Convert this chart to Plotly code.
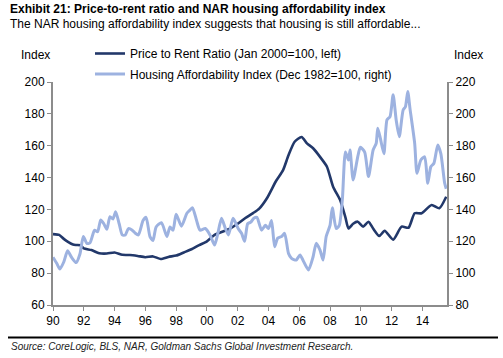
import plotly.graph_objects as go

# Price to Rent Ratio (Jan 2000=100, left axis)
ptr_year = [1990.0, 1990.4, 1990.7, 1991.0, 1991.3, 1991.5, 1991.8, 1992.0, 1992.5, 1993.0,
            1993.5, 1994.0, 1994.5, 1995.0, 1995.5, 1996.0, 1996.5, 1997.0, 1997.5, 1998.0,
            1998.5, 1999.0, 1999.5, 2000.0, 2000.5, 2001.0, 2001.5, 2002.0, 2002.5, 2003.0,
            2003.4, 2003.9, 2004.5, 2004.95, 2005.3, 2005.7, 2006.15, 2006.5, 2006.9, 2007.35,
            2007.8, 2008.2, 2008.65, 2009.0, 2009.2, 2009.5, 2009.8, 2010.15, 2010.5, 2010.8,
            2011.2, 2011.55, 2012.1, 2012.65, 2013.1, 2013.5, 2013.95, 2014.6, 2015.1, 2015.55]
ptr_value = [104.5, 104, 101.5, 99.5, 98, 97.7, 97.5, 95.5, 94.5, 92.5,
             92.3, 93, 91.5, 91.4, 90.8, 90, 90.5, 88.9, 90.2, 91,
             93, 95, 97.6, 100, 104, 106, 108, 111, 114.6, 117.7,
             120.5, 127, 138, 144.7, 154, 162.5, 165.5, 161.5, 158.4, 153,
             146.8, 134.2, 126, 115, 108, 111, 112.3, 109.2, 112.3, 108,
             103.3, 106.6, 101, 109.2, 108.5, 117.6, 117.6, 122.8, 120.7, 128]

# Housing Affordability Index (Dec 1982=100, right axis)
hai_year = [1990.0, 1990.25, 1990.45, 1990.7, 1990.95, 1991.2, 1991.5, 1991.75, 1991.97, 1992.2,
            1992.4, 1992.7, 1992.9, 1993.1, 1993.3, 1993.5, 1993.7, 1993.9, 1994.07, 1994.3,
            1994.5, 1994.7, 1994.9, 1995.15, 1995.35, 1995.55, 1995.85, 1996.05, 1996.3, 1996.5,
            1996.7, 1997.05, 1997.4, 1997.6, 1997.8, 1998.0, 1998.35, 1998.7, 1998.9, 1999.07,
            1999.33, 1999.55, 1999.9, 2000.2, 2000.5, 2000.7, 2000.95, 2001.2, 2001.4, 2001.7,
            2002.03, 2002.25, 2002.45, 2002.65, 2002.85, 2003.05, 2003.25, 2003.55, 2003.8, 2004.0,
            2004.2, 2004.4, 2004.6, 2004.85, 2005.05, 2005.3, 2005.5, 2005.8, 2006.05, 2006.25,
            2006.6, 2006.9, 2007.1, 2007.35, 2007.55, 2007.75, 2008.0, 2008.15, 2008.4, 2008.6,
            2008.8, 2009.0, 2009.2, 2009.3, 2009.5, 2009.8, 2009.97, 2010.25, 2010.5, 2010.8,
            2011.0, 2011.1, 2011.27, 2011.5, 2011.7, 2011.9, 2012.1, 2012.3, 2012.5, 2012.75,
            2012.9, 2013.05, 2013.2, 2013.5, 2013.65, 2013.9, 2014.15, 2014.35, 2014.55, 2014.75,
            2015.0, 2015.2, 2015.45, 2015.55]
hai_value = [110, 106, 102.6, 107, 114, 110, 106.6, 112, 123, 118.7,
             119, 127, 126, 133.4, 131, 127.5, 135.4, 134, 138.6, 131,
             124, 124, 128, 127, 125, 124, 133, 135, 123, 120.5,
             129, 131.7, 123, 129, 127, 137, 129.5, 137.6, 139.6, 141,
             133, 127, 128, 124, 117.7, 124.5, 134.4, 128, 124, 134.4,
             128, 125, 120, 131, 132, 134.5, 135, 127, 130, 128,
             133, 116.6, 122, 123, 125, 112.4, 109.3, 108.2, 111.4, 108,
             102, 110.3, 118.7, 114.5, 108.2, 123, 130, 141, 128, 130,
             146, 176, 171, 177.3, 158.5, 173, 179, 176, 160.6, 177.3,
             181.5, 191, 184.6, 175, 196.2, 198.3, 212, 196, 185.7, 202.4,
             204.5, 214, 203, 181.5, 162.7, 171, 173, 156.4, 166.8, 169,
             180.4, 175, 156.4, 153]

x_tickvals = [1990, 1992, 1994, 1996, 1998, 2000, 2002, 2004, 2006, 2008, 2010, 2012, 2014]
x_ticktext = ["90", "92", "94", "96", "98", "00", "02", "04", "06", "08", "10", "12", "14"]

DARK = "#22386a"
LIGHT = "#9db2e0"
AXIS = "#8c8c8c"
FONT = "Liberation Sans, Arial, sans-serif"

fig = go.Figure()
fig.add_trace(go.Scatter(x=ptr_year, y=ptr_value, mode="lines", legendgroup="a",
                         name="Price to Rent Ratio (Jan 2000=100, left)",
                         line=dict(color=DARK, width=2.6, shape="spline", smoothing=0.6)))
fig.add_trace(go.Scatter(x=hai_year, y=hai_value, mode="lines", yaxis="y2", legendgroup="b",
                         name="Housing Affordability Index (Dec 1982=100, right)",
                         line=dict(color=LIGHT, width=3, shape="spline", smoothing=0.6)))

L, R, T, B = 53, 447, 82, 305
W, H = 503, 358


def px(x):
    return (x - L) / (R - L)


def py(y):
    return (B - y) / (B - T)


annotations = [
    dict(text="<b>Exhibit 21: Price-to-rent ratio and NAR housing affordability index</b>",
         x=px(8), y=py(9), xanchor="left", yanchor="middle", font=dict(size=12, color="#000")),
    dict(text="The NAR housing affordability index suggests that housing is still affordable...",
         x=px(8), y=py(23.5), xanchor="left", yanchor="middle", font=dict(size=12, color="#000")),
    dict(text="Index", x=px(19), y=py(55), xanchor="left", yanchor="middle",
         font=dict(size=12, color="#000")),
    dict(text="Index", x=px(452), y=py(55), xanchor="left", yanchor="middle",
         font=dict(size=12, color="#000")),
    dict(text="<i>Source: CoreLogic, BLS, NAR, Goldman Sachs Global Investment Research.</i>",
         x=px(9), y=py(346.5), xanchor="left", yanchor="middle", font=dict(size=10, color="#222")),
]
for a in annotations:
    a.update(xref="paper", yref="paper", showarrow=False)

fig.update_layout(
    width=W, height=H,
    margin=dict(l=L, r=W - R, t=T, b=H - B, pad=0),
    paper_bgcolor="white", plot_bgcolor="white",
    font=dict(family=FONT, size=12, color="#000"),
    showlegend=True,
    legend=dict(x=px(90), y=py(39), xanchor="left", yanchor="top", xref="paper", yref="paper",
                bgcolor="rgba(0,0,0,0)", font=dict(size=12), itemwidth=30,
                tracegroupgap=1.5, borderwidth=0),
    xaxis=dict(range=[1990, 2015.6], tickvals=x_tickvals, ticktext=x_ticktext,
               showgrid=False, zeroline=False, showline=True, linecolor=AXIS, linewidth=2,
               ticks="outside", ticklen=4, tickcolor=AXIS, tickfont=dict(size=12)),
    yaxis=dict(range=[60, 200], dtick=20, showgrid=False, zeroline=False, showline=True,
               linecolor=AXIS, linewidth=2, ticks="outside", ticklen=4, tickcolor=AXIS,
               tickfont=dict(size=12)),
    yaxis2=dict(range=[80, 220], dtick=20, overlaying="y", side="right", showgrid=False,
                zeroline=False, showline=True, linecolor=AXIS, linewidth=2, ticks="outside",
                ticklen=4, tickcolor=AXIS, tickfont=dict(size=12)),
    annotations=annotations,
    shapes=[dict(type="line", xref="paper", yref="paper", x0=px(8), x1=px(498),
                 y0=py(337.5), y1=py(337.5), line=dict(color="#000", width=2))],
)

fig.write_html("out.html", config={"displayModeBar": False},
               post_script="document.body.style.margin='0';document.body.style.overflow='hidden';")
